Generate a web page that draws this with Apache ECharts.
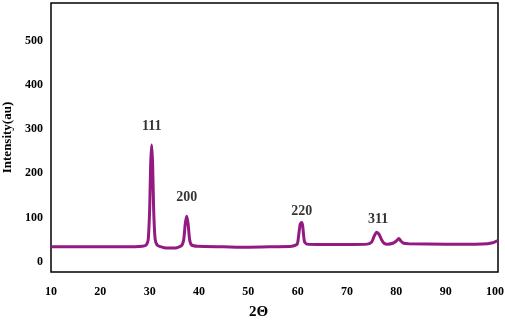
<!DOCTYPE html>
<html>
<head>
<meta charset="utf-8">
<script src="https://cdn.jsdelivr.net/npm/echarts@6/dist/echarts.min.js"></script>
<style>
  html, body { margin: 0; padding: 0; background: #fff; }
  #chart { width: 505px; height: 320px; }
</style>
</head>
<body>
<div id="chart"></div>
<script>
// XRD pattern
const twoTheta = [10, 20, 27, 28.5, 29.3, 29.7, 30.0, 30.2, 30.4, 30.6, 30.8, 31.1, 31.5, 32, 33.5, 35,
  36.4, 36.9, 37.2, 37.5, 37.8, 38.1, 38.5, 39.7, 45, 50, 55, 58.8, 59.9, 60.2, 60.5, 60.8, 61.0, 61.2,
  61.4, 61.9, 65, 70, 74.1, 75.0, 75.5, 76.0, 76.5, 77.0, 77.5, 78.2, 79.3, 80.0, 80.5, 80.9, 81.5, 82.5,
  90, 96, 98.5, 99.5, 100.6];
const intensity = [34, 34, 34, 35, 38, 50, 120, 220, 264, 220, 120, 52, 38, 35, 31, 31,
  36, 50, 85, 103, 85, 50, 38, 35, 34, 33, 34, 35, 40, 60, 85, 89, 82, 60,
  45, 40, 39, 39, 40, 45, 58, 67, 62, 50, 42, 40, 42, 47, 53, 47, 42, 41,
  40, 40, 41, 43, 48];

// peak labels (Miller indices) and where they sit
const peakNames = ['111', '200', '220', '311'];
const peakX = [30.4, 37.5, 60.8, 76.3];
const peakY = [306, 145, 114, 96];

const yTicks = [0, 100, 200, 300, 400, 500];

const font = 'Liberation Serif';
const chart = echarts.init(document.getElementById('chart'));

chart.setOption({
  animation: false,
  grid: {
    left: 51, right: 7, top: 3, bottom: 48,
    outerBoundsMode: 'none', containLabel: false,
    show: true, borderColor: '#000', borderWidth: 1.5
  },
  xAxis: {
    type: 'value', min: 10, max: 100.6, interval: 10,
    axisLine: { show: false }, axisTick: { show: false }, splitLine: { show: false },
    axisLabel: { fontFamily: font, fontWeight: 'bold', fontSize: 12, color: '#000', margin: 14 }
  },
  yAxis: {
    type: 'value', min: -23, max: 585,
    name: 'Intensity(au)', nameLocation: 'middle', nameGap: 33,
    nameTextStyle: { fontFamily: font, fontWeight: 'bold', fontSize: 13, color: '#000' },
    axisLine: { show: false }, axisTick: { show: false }, splitLine: { show: false },
    axisLabel: { customValues: yTicks, fontFamily: font, fontWeight: 'bold', fontSize: 12, color: '#000', margin: 8 }
  },
  graphic: [{
    type: 'text', left: 249, top: 305,
    style: { text: '2Θ', font: 'bold 15px "Liberation Serif"', fill: '#000' }
  }],
  series: [
    {
      type: 'line',
      data: twoTheta.map((x, i) => [x, intensity[i]]),
      showSymbol: false,
      smooth: 0.2,
      lineStyle: { color: '#921a80', width: 3 }
    },
    {
      type: 'scatter',
      symbolSize: 0,
      data: peakNames.map((n, i) => ({ name: n, value: [peakX[i], peakY[i]] })),
      label: {
        show: true, position: 'inside', formatter: '{b}',
        fontFamily: font, fontWeight: 'bold', fontSize: 14, color: '#000'
      }
    }
  ]
});
</script>
</body>
</html>
